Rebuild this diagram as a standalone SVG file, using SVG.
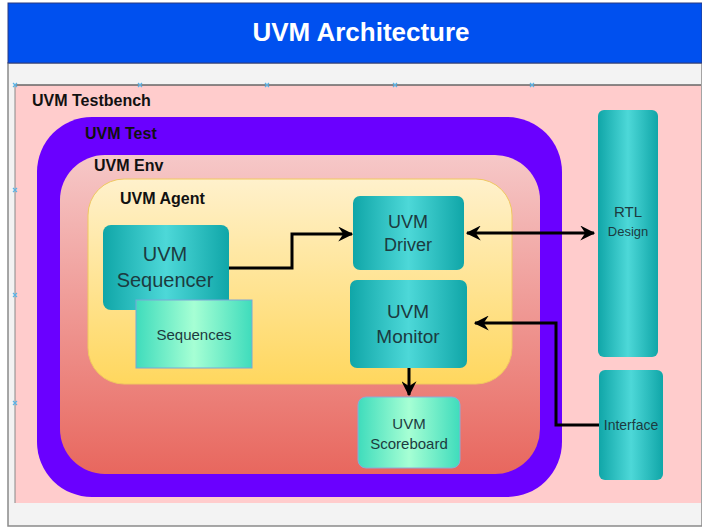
<svg xmlns="http://www.w3.org/2000/svg" width="702" height="528" viewBox="0 0 702 528">
<defs>
<linearGradient id="teal" x1="0" y1="0" x2="1" y2="0">
<stop offset="0" stop-color="#10a6a8"/><stop offset="0.5" stop-color="#4dd8d8"/><stop offset="1" stop-color="#10a6a8"/>
</linearGradient>
<linearGradient id="mint" x1="0" y1="0" x2="1" y2="0">
<stop offset="0" stop-color="#3fdcbc"/><stop offset="0.5" stop-color="#a6ffd4"/><stop offset="1" stop-color="#3fdcbc"/>
</linearGradient>
<linearGradient id="env" x1="0" y1="0" x2="0" y2="1">
<stop offset="0" stop-color="#f6c8c8"/><stop offset="1" stop-color="#e8675e"/>
</linearGradient>
<linearGradient id="agent" x1="0" y1="0" x2="0" y2="1">
<stop offset="0" stop-color="#fff1cc"/><stop offset="1" stop-color="#ffd75e"/>
</linearGradient>
<marker id="ah" viewBox="0 0 12 12" refX="11" refY="6" markerWidth="5" markerHeight="5" orient="auto-start-reverse" markerUnits="strokeWidth">
<path d="M0,0 L12,6 L0,12 L4,6 z" fill="#000"/>
</marker>
</defs>
<style>
.lbl{font-family:"Liberation Sans",Arial,sans-serif;font-weight:bold;font-size:16px;fill:#111}
.nt{font-family:"Liberation Sans",Arial,sans-serif;fill:#1c3b40;text-anchor:middle}
.conn{fill:none;stroke:#000;stroke-width:3;marker-end:url(#ah)}
.hdl{stroke:#5ab4e6;stroke-width:1.2}
</style>
<rect x="0" y="0" width="702" height="528" fill="#ffffff"/>
<rect x="8" y="63" width="694" height="463" fill="#f3f3f3" stroke="#8a8a8a" stroke-width="1.5"/>
<g id="title">
<rect x="8" y="3" width="694" height="60" fill="#0050ef" stroke="#2a3a80" stroke-width="1"/>
<text x="361" y="41" text-anchor="middle" font-family="Liberation Sans,Arial,sans-serif" font-weight="bold" font-size="26" fill="#ffffff">UVM Architecture</text>
</g>
<g id="testbench">
<rect x="15" y="85" width="686" height="418" fill="#ffcccc"/>
<line x1="15" y1="85" x2="701" y2="85" stroke="#666" stroke-width="1.5"/>
<line x1="15" y1="85" x2="15" y2="503" stroke="#888" stroke-width="1"/>
<g class="hdl">
<path d="M13,83 l4,4 M17,83 l-4,4 M138,83 l4,4 M142,83 l-4,4 M265,83 l4,4 M269,83 l-4,4 M393,83 l4,4 M397,83 l-4,4 M530,83 l4,4 M534,83 l-4,4 M13,188 l4,4 M17,188 l-4,4 M13,293 l4,4 M17,293 l-4,4 M13,401 l4,4 M17,401 l-4,4"/>
</g>
<text class="lbl" x="32" y="106">UVM Testbench</text>
</g>
<g id="test">
<rect x="37" y="117" width="525" height="380" rx="55" ry="55" fill="#6a00ff"/>
<text class="lbl" x="85" y="139">UVM Test</text>
</g>
<g id="env">
<rect x="60" y="155" width="480" height="319" rx="45" ry="45" fill="url(#env)"/>
<text class="lbl" x="94" y="171">UVM Env</text>
</g>
<g id="agent">
<rect x="88" y="179" width="424" height="205" rx="36" ry="36" fill="url(#agent)" stroke="#f0c860" stroke-width="1"/>
<text class="lbl" x="120" y="204">UVM Agent</text>
</g>
<g id="sequencer">
<rect x="103" y="225" width="126" height="85" rx="8" ry="8" fill="url(#teal)"/>
<text class="nt" x="165" y="261" font-size="20">UVM</text>
<text class="nt" x="165" y="287" font-size="20">Sequencer</text>
</g>
<g id="sequences">
<rect x="136" y="300" width="116" height="68" fill="url(#mint)" stroke="#7aa6d8" stroke-width="1"/>
<text class="nt" x="194" y="340" font-size="15">Sequences</text>
</g>
<g id="driver">
<rect x="353" y="196" width="111" height="74" rx="7" ry="7" fill="url(#teal)"/>
<text class="nt" x="408" y="228" font-size="18">UVM</text>
<text class="nt" x="408" y="251" font-size="18">Driver</text>
</g>
<g id="monitor">
<rect x="350" y="280" width="117" height="88" rx="7" ry="7" fill="url(#teal)"/>
<text class="nt" x="408" y="318" font-size="19">UVM</text>
<text class="nt" x="408" y="343" font-size="19">Monitor</text>
</g>
<g id="scoreboard">
<rect x="358" y="397" width="102" height="71" rx="8" ry="8" fill="url(#mint)" stroke="#8fa8d8" stroke-width="1"/>
<text class="nt" x="409" y="429" font-size="15">UVM</text>
<text class="nt" x="409" y="449" font-size="15">Scoreboard</text>
</g>
<g id="rtl">
<rect x="598" y="110" width="60" height="247" rx="6" ry="6" fill="url(#teal)"/>
<text class="nt" x="628" y="217" font-size="15">RTL</text>
<text class="nt" x="628" y="236" font-size="13">Design</text>
</g>
<g id="interface">
<rect x="599" y="370" width="64" height="110" rx="6" ry="6" fill="url(#teal)"/>
<text class="nt" x="631" y="430" font-size="14">Interface</text>
</g>
<g id="connectors">
<path class="conn" d="M229,268 H292 V234 H352"/>
<path class="conn" d="M467,233 H594" marker-start="url(#ah)"/>
<path class="conn" d="M599,425 H556 V323 H475"/>
<path class="conn" d="M409,368 V395"/>
</g>
</svg>
